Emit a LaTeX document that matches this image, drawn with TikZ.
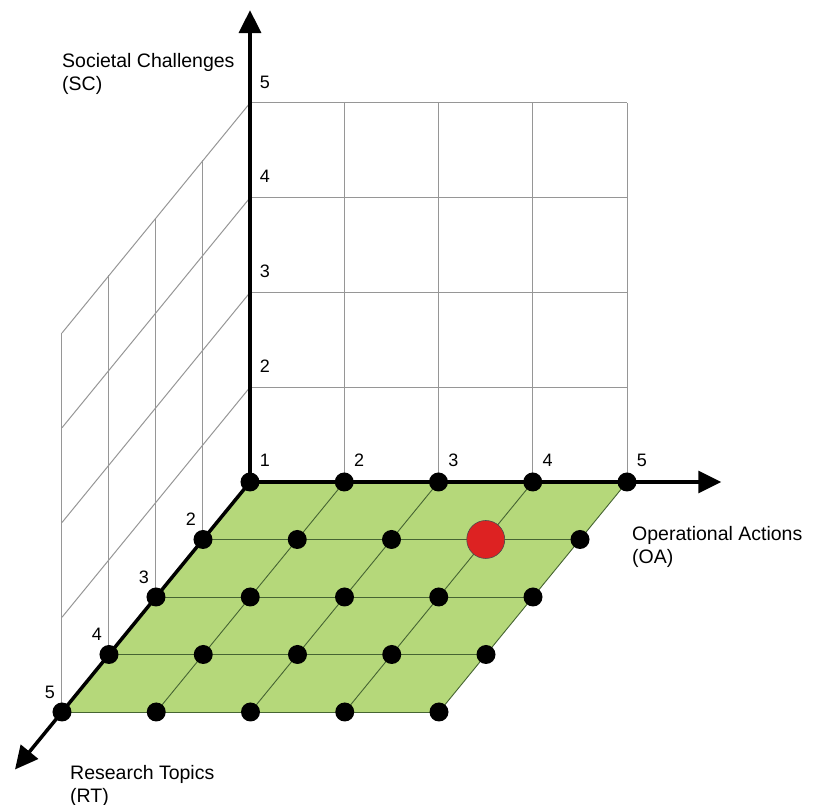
\documentclass[tikz,border=0pt]{standalone}
\usepackage{fontspec}
\setmainfont{Liberation Sans}
\usepackage{tikz}
\usetikzlibrary{arrows.meta,positioning,calc}
\definecolor{PlaneGreen}{RGB}{181, 216, 122}
\definecolor{GridGreen}{RGB}{70, 100, 50}
\definecolor{GridGray}{RGB}{150, 150, 150}
\definecolor{MarkRed}{RGB}{221, 34, 34}

\begin{document}
\begin{tikzpicture}[x={(94.25pt,0pt)}, y={(0pt,94.75pt)}, z={(-47pt,-57.5pt)},
    axis/.style={line width=3.5pt, -{Triangle[length=23pt,width=22pt]}},
    backgrid/.style={GridGray, line width=1pt},
    planegrid/.style={GridGreen, line width=0.9pt},
    dot/.style={circle, fill=black, inner sep=0pt, minimum size=19pt},
    hit/.style={circle, fill=MarkRed, draw=black!70, line width=0.6pt, inner sep=0pt, minimum size=38pt},
    num/.style={font=\fontsize{18}{18}\selectfont, inner sep=0pt},
    axlabel/.style={font=\fontsize{19.5}{23}\selectfont, align=left, inner sep=0pt, anchor=north west}]
    \useasboundingbox (-250pt,-323pt) rectangle (567pt,482pt);

    % planes
    \fill[PlaneGreen] (0,0,0) -- (4,0,0) -- (4,0,4) -- (0,0,4) -- cycle;
    \foreach \k in {1,...,4} \draw[planegrid] (0,0,\k) -- (4,0,\k);
    \foreach \i in {1,...,4} \draw[planegrid] (\i,0,0) -- (\i,0,4);
    \foreach \j in {1,...,4} \draw[backgrid] (0,\j,0) -- (4,\j,0);
    \foreach \i in {1,...,4} \draw[backgrid] (\i,0,0) -- (\i,4,0);
    \foreach \j in {1,...,4} \draw[backgrid] (0,\j,0) -- (0,\j,4);
    \foreach \k in {1,...,4} \draw[backgrid] (0,0,\k) -- (0,4,\k);

    % axes
    \coordinate (o) at (0,0,0);
    \coordinate (oa) at (5,0,0);
    \coordinate (sc) at (0,4.98,0);
    \coordinate (rt) at (0,0,5);
    \draw[axis] (o) -- (oa);
    \draw[axis] (o) -- (sc);
    \draw[axis] (o) -- (rt);

    % points
    \foreach \i in {0,...,4}
      \foreach \k in {0,...,4}
        \node[dot] (p-\i-\k) at (\i,0,\k) {};
    \node[hit] (p-3-1) at (3,0,1) {};

    % scale numbers
    \foreach \i/\n in {0/1,1/2,2/3,3/4,4/5}
      \node[num] (oa-\n) at ($(p-\i-0)+(15pt,22pt)$) {\n};
    \foreach \j/\n in {1/2,2/3,3/4,4/5}
      \node[num] (sc-\n) at ($(0,\j,0)+(15pt,21pt)$) {\n};
    \foreach \k/\n in {1/2,2/3,3/4,4/5}
      \node[num] (rt-\n) at ($(p-0-\k)+(-12pt,20pt)$) {\n};

    % axis names
    \node[axlabel] (sc-name) at (-188pt,429pt) {Societal Challenges\\(SC)};
    \node[axlabel] (oa-name) at (382pt,-44pt) {Operational Actions\\(OA)};
    \node[axlabel] (rt-name) at (-180pt,-283pt) {Research Topics\\(RT)};
\end{tikzpicture}
\end{document}
